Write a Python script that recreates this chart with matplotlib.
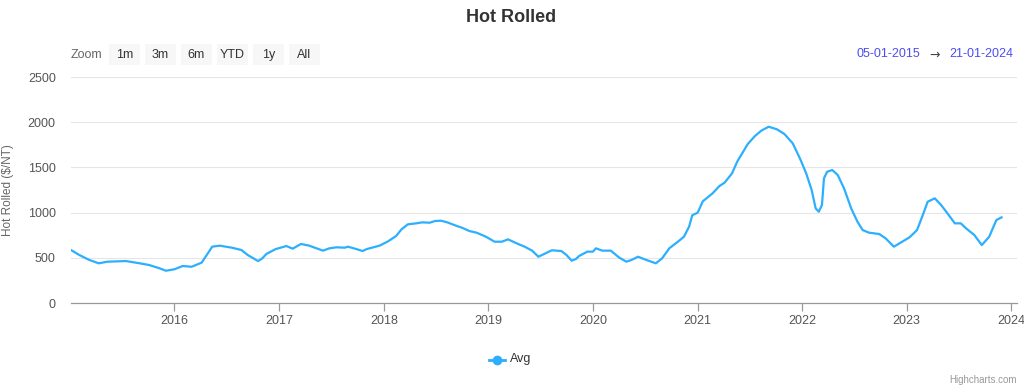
import pandas as pd
import matplotlib
matplotlib.use("Agg")
import matplotlib.pyplot as plt
import matplotlib.dates as mdates
from matplotlib.patches import Rectangle
from matplotlib.lines import Line2D

plt.rcParams["font.family"] = ["Liberation Sans", "DejaVu Sans"]

# weekly-ish readings of the "Avg" series, $/NT
dates = [
    "2015-01-05", "2015-02-03", "2015-03-10", "2015-04-12", "2015-05-12", "2015-07-16",
    "2015-09-02", "2015-10-05", "2015-11-10", "2015-12-02", "2016-01-01", "2016-01-30",
    "2016-03-01", "2016-04-05", "2016-04-23", "2016-05-12", "2016-06-07", "2016-07-20",
    "2016-08-22", "2016-09-13", "2016-10-19", "2016-11-03", "2016-11-17", "2016-12-20",
    "2017-01-26", "2017-02-17", "2017-03-18", "2017-04-16", "2017-06-03", "2017-06-25",
    "2017-07-20", "2017-08-18", "2017-08-29", "2017-09-27", "2017-10-19", "2017-11-03",
    "2017-11-21", "2017-12-17", "2018-01-15", "2018-02-13", "2018-03-04", "2018-03-26",
    "2018-04-24", "2018-05-16", "2018-06-10", "2018-06-29", "2018-07-20", "2018-08-11",
    "2018-09-13", "2018-10-01", "2018-10-27", "2018-11-21", "2018-12-24", "2019-01-23",
    "2019-02-17", "2019-03-11", "2019-04-10", "2019-05-08", "2019-06-03", "2019-06-25",
    "2019-07-24", "2019-08-11", "2019-09-13", "2019-10-01", "2019-10-19", "2019-11-03",
    "2019-11-14", "2019-12-13", "2020-01-01", "2020-01-12", "2020-02-03", "2020-03-04",
    "2020-04-01", "2020-04-27", "2020-05-15", "2020-06-07", "2020-07-06", "2020-08-08",
    "2020-08-30", "2020-09-24", "2020-10-24", "2020-11-14", "2020-12-02", "2020-12-13",
    "2021-01-01", "2021-01-19", "2021-02-21", "2021-03-18", "2021-04-05", "2021-05-01",
    "2021-05-19", "2021-06-07", "2021-06-25", "2021-07-20", "2021-08-11", "2021-09-06",
    "2021-10-05", "2021-10-31", "2021-11-29", "2021-12-24", "2022-01-15", "2022-02-03",
    "2022-02-17", "2022-02-28", "2022-03-11", "2022-03-18", "2022-03-29", "2022-04-16",
    "2022-05-05", "2022-05-27", "2022-06-21", "2022-07-13", "2022-07-31", "2022-08-22",
    "2022-09-27", "2022-10-19", "2022-11-17", "2022-12-16", "2023-01-11", "2023-02-06",
    "2023-02-24", "2023-03-15", "2023-04-09", "2023-05-01", "2023-05-23", "2023-06-18",
    "2023-07-09", "2023-07-27", "2023-08-25", "2023-09-20", "2023-10-16", "2023-11-10",
    "2023-11-28",
]
avg = [
    586, 531, 476, 439, 457, 464,
    439, 420, 384, 357, 373, 409,
    401, 446, 531, 623, 634, 612,
    586, 531, 464, 494, 542, 597,
    630, 601, 653, 634, 579, 605,
    616, 612, 623, 597, 575, 597,
    612, 634, 680, 741, 815, 870,
    881, 892, 888, 907, 910, 892,
    852, 833, 796, 778, 733, 678,
    678, 704, 660, 623, 579, 512,
    556, 583, 575, 531, 468, 487,
    520, 568, 568, 605, 579, 579,
    505, 457, 476, 512, 476, 439,
    494, 605, 678, 733, 844, 970,
    999, 1125, 1210, 1294, 1331, 1434,
    1563, 1663, 1759, 1847, 1906, 1950,
    1921, 1869, 1766, 1600, 1434, 1250,
    1047, 1010, 1084, 1379, 1452, 1471,
    1416, 1269, 1047, 899, 807, 778,
    763, 716, 623, 678, 727, 807,
    955, 1120, 1158, 1084, 992, 881,
    881, 826, 752, 641, 733, 918,
    947,
]
range_start, range_end = "2015-01-05", "2024-01-21"
range_labels = ["05-01-2015", "21-01-2024"]
zoom_buttons = ["1m", "3m", "6m", "YTD", "1y", "All"]
y_ticks = [0, 500, 1000, 1500, 2000, 2500]

W, H = 1024, 388
LINE = "#2caffe"

fig = plt.figure(figsize=(W / 100, H / 100), dpi=100)
ax = fig.add_axes([71 / W, 85 / H, 946 / W, 226 / H])

ax.plot(pd.to_datetime(dates), avg, color=LINE, lw=1.6, solid_joinstyle="round")

ax.set_xlim(pd.Timestamp(range_start), pd.Timestamp(range_end))
ax.set_ylim(0, 2500)
ax.set_yticks(y_ticks)
ax.xaxis.set_major_locator(mdates.YearLocator())
ax.xaxis.set_major_formatter(mdates.DateFormatter("%Y"))
ax.grid(axis="y", color="#e6e6e6", lw=0.8)
ax.set_axisbelow(True)
for side in ["top", "right", "left"]:
    ax.spines[side].set_visible(False)
ax.spines["bottom"].set_color("#999999")
ax.spines["bottom"].set_linewidth(0.9)
ax.tick_params(axis="x", colors="#999999", length=6, width=0.9, pad=3,
               labelcolor="#555555", labelsize=9)
ax.tick_params(axis="y", length=0, pad=11, labelcolor="#555555", labelsize=9)
ax.set_ylabel("Hot Rolled ($/NT)", color="#666666", fontsize=8.5, labelpad=4)
ax.yaxis.set_label_coords(-57 / 946, 0.5)

fig.text(511 / W, 1 - 17 / H, "Hot Rolled", ha="center", va="center",
         fontsize=13, fontweight="bold", color="#333333")

# range selector
fig.text(71 / W, 1 - 55 / H, "Zoom", ha="left", va="center", fontsize=9, color="#666666")
for i, lab in enumerate(zoom_buttons):
    x0 = 109 + i * 36
    fig.add_artist(Rectangle((x0 / W, 1 - 65 / H), 31 / W, 21 / H,
                             transform=fig.transFigure, fc="#f7f7f7", ec="none"))
    fig.text((x0 + 15.5) / W, 1 - 55 / H, lab, ha="center", va="center",
             fontsize=9, color="#333333")

fig.text(920 / W, 1 - 54 / H, range_labels[0], ha="right", va="center",
         fontsize=9, color="#4d4dee")
fig.text(935 / W, 1 - 55 / H, "\u2192", ha="center", va="center",
         fontsize=9, color="#444444", family=["DejaVu Sans"])
fig.text(1013 / W, 1 - 54 / H, range_labels[1], ha="right", va="center",
         fontsize=9, color="#4d4dee")

# legend
fig.add_artist(Line2D([489 / W, 505 / W], [1 - 360 / H, 1 - 360 / H],
                      transform=fig.transFigure, color=LINE, lw=2))
fig.add_artist(Line2D([497 / W], [1 - 360 / H], transform=fig.transFigure,
                      marker="o", ms=6, color=LINE))
fig.text(510 / W, 1 - 359 / H, "Avg", ha="left", va="center", fontsize=9, color="#333333")

fig.text(1017 / W, 1 - 380 / H, "Highcharts.com", ha="right", va="center",
         fontsize=7, color="#999999")

fig.savefig("out.png", dpi=100)
